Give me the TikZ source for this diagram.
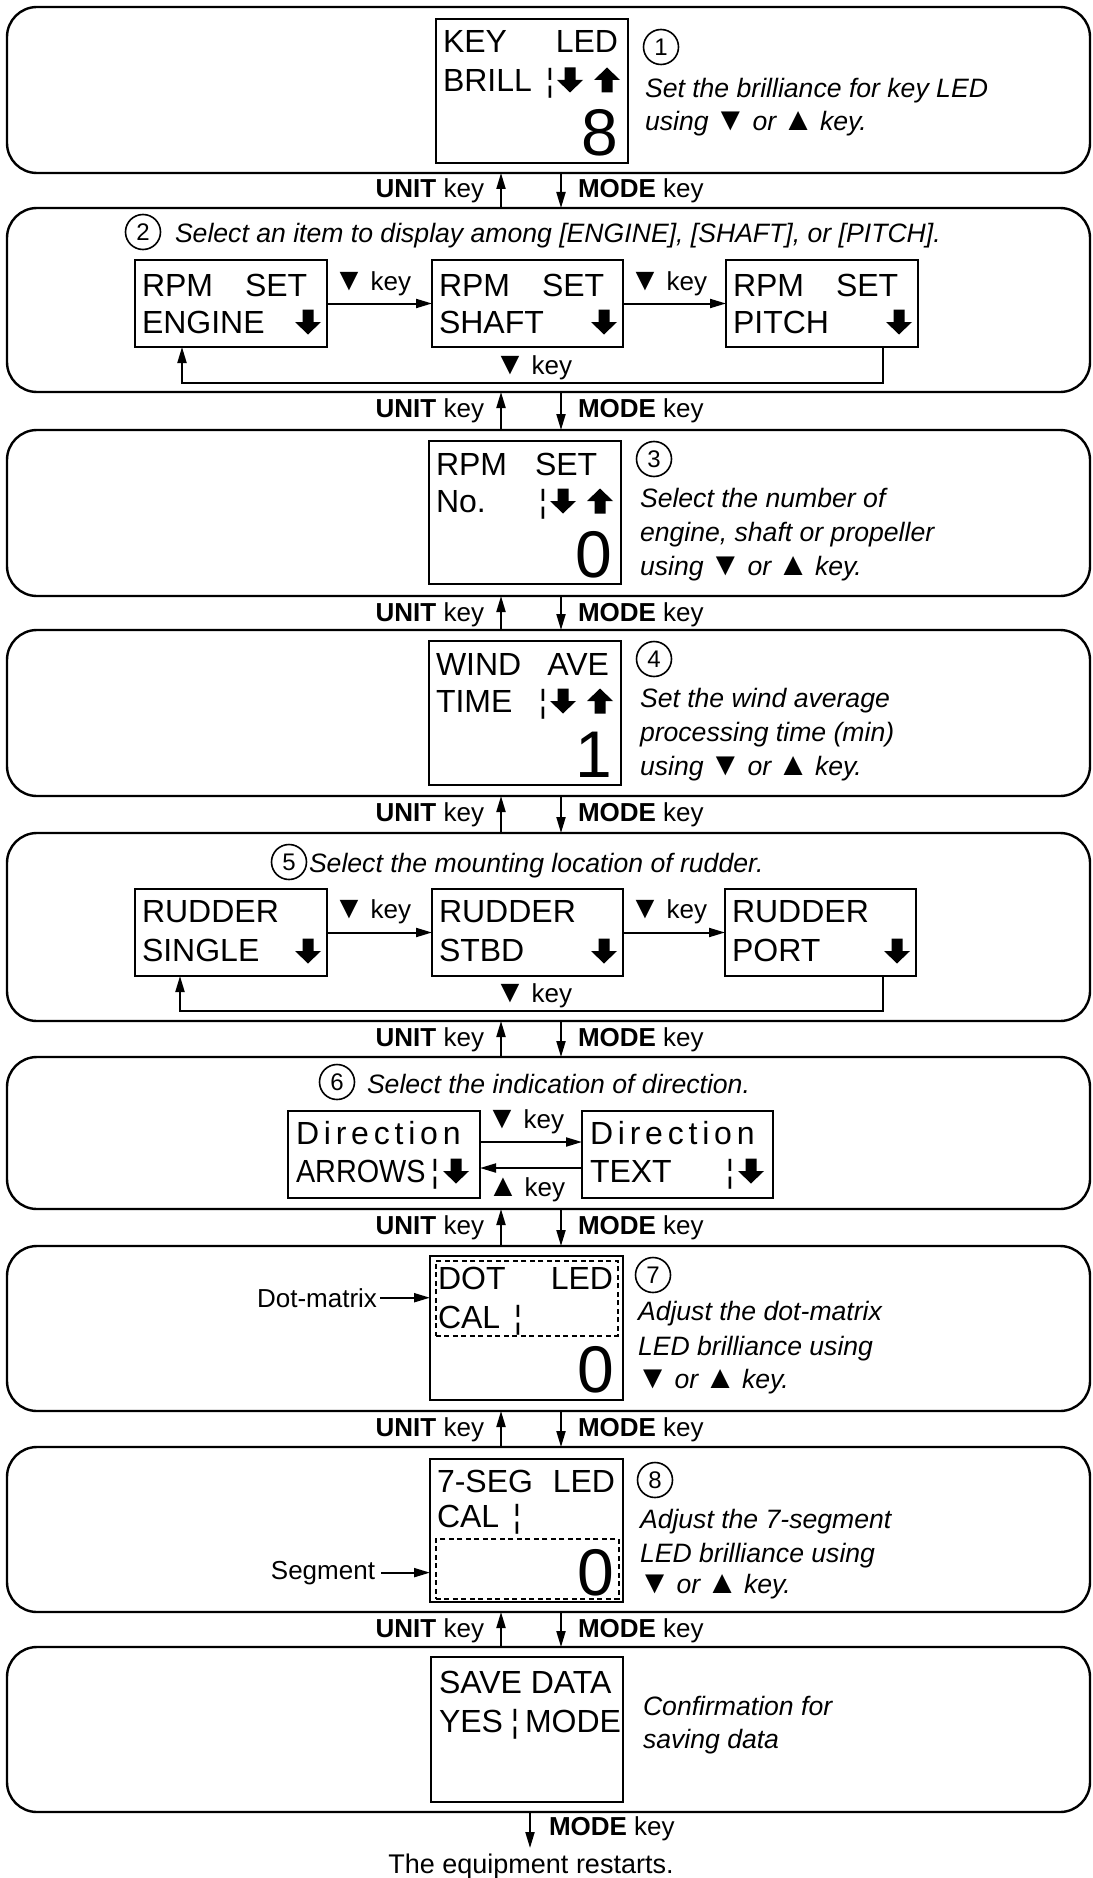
\documentclass[tikz,border=0pt]{standalone}
\usepackage{fontspec}
\setmainfont{Liberation Sans}
\newfontfamily\dirfont[LetterSpace=15]{Liberation Sans}
\usetikzlibrary{arrows.meta,calc}
\newcommand\fBox{\fontsize{32}{36}\selectfont}
\newcommand\fBig{\fontsize{66}{70}\selectfont}
\newcommand\fDesc{\fontsize{26.6}{30}\selectfont\itshape}
\newcommand\fKey{\fontsize{26}{30}\selectfont}
\newcommand\fNum{\fontsize{24}{28}\selectfont}
\newcommand\tdn{{\upshape\hspace{-1.5pt}\scalebox{1.22}{▼}\hspace{-1.5pt}}}
\newcommand\tup{{\upshape\hspace{-1.5pt}\scalebox{1.22}{▲}\hspace{-1.5pt}}}
\newcommand\pnl[3]{\node[panelbox, anchor=north west, minimum width=1083, minimum height={(#3)-(#2)}] (#1) at (7,#2) {};}
\newcommand\dbox[5]{\node[dispbox, anchor=north west, minimum width={(#4)-(#2)}, minimum height={(#5)-(#3)}] (#1) at (#2,#3) {};}
\begin{document}
\begin{tikzpicture}[x=1pt,y=-1pt,
  panelbox/.style={draw, line width=2.4pt, rounded corners=30pt, inner sep=0, outer sep=0},
  dispbox/.style={draw, line width=2.2pt, inner sep=0, outer sep=0},
  dotbox/.style={draw, line width=1.8pt, dash pattern=on 5pt off 3.5pt},
  boxtxt/.style={inner sep=0, outer sep=0, font=\fBox, anchor=base west},
  bigdig/.style={inner sep=0, outer sep=0, font=\fBig, anchor=base east},
  desctxt/.style={inner sep=0, outer sep=0, font=\fDesc, anchor=base west},
  keytxt/.style={inner sep=0, outer sep=0, font=\fKey, anchor=base west},
  circnum/.style={circle, draw, line width=1.6pt, minimum size=35pt, inner sep=0, font=\fNum},
  conarr/.style={line width=2pt, -{Triangle[length=16pt,width=9pt]}},
  pics/darr/.style={code={\fill (-5.5,-12.5) -- (5.5,-12.5) -- (5.5,0) -- (13,0) -- (0,12.5) -- (-13,0) -- (-5.5,0) -- cycle;}},
  pics/uarr/.style={code={\fill (-5.5,12.5) -- (5.5,12.5) -- (5.5,0) -- (13,0) -- (0,-12.5) -- (-13,0) -- (-5.5,0) -- cycle;}}
]
\fill[white] (0,0) rectangle (1092,1878);
\useasboundingbox (0,0) rectangle (1092,1878);
\coordinate (ux) at (501,0);
\coordinate (mx) at (561,0);
% panels
\pnl{p1}{7}{173}
\pnl{p2}{208}{392}
\pnl{p3}{430}{596}
\pnl{p4}{630}{796}
\pnl{p5}{833}{1021}
\pnl{p6}{1057}{1209}
\pnl{p7}{1246}{1411}
\pnl{p8}{1447}{1612}
\pnl{p9}{1647}{1812}
% strips between panels
\foreach \a/\b/\yb in {p1/p2/198, p2/p3/417, p3/p4/621, p4/p5/821, p5/p6/1046, p6/p7/1234, p7/p8/1436, p8/p9/1637} {
  \draw[conarr] (\b.north -| ux) -- (\a.south -| ux);
  \draw[conarr] (\a.south -| mx) -- (\b.north -| mx);
  \node[keytxt, anchor=base east] (u\a) at (484,\yb) {\textbf{UNIT} key};
  \node[keytxt] (m\a) at (578,\yb) {\textbf{MODE} key};
}
% ---------- panel 1
\dbox{b1}{436}{19}{628}{163}
\node[boxtxt] (b1k) at (443,53) {KEY};
\node[boxtxt, anchor=base east] (b1l) at (618,53) {LED};
\node[boxtxt] (b1b) at (443,92) {BRILL};
\node[boxtxt, anchor=base] (b1s) at (550,92) {¦};
\pic at (570,80) {darr};
\pic at (607,80) {uarr};
\node[bigdig] (b1n) at (618,156) {8};
\node[circnum] (c1) at (661,47) {1};
\node[desctxt] (d1a) at (645,98) {Set the brilliance for key LED};
\node[desctxt] (d1b) at (645,131) {using \tdn{} or \tup{} key.};
% ---------- panel 2
\node[circnum] (c2) at (143,232) {2};
\node[desctxt] (d2a) at (175,243) {Select an item to display among [ENGINE], [SHAFT], or [PITCH].};
\dbox{e1}{135}{260}{327}{347}
\dbox{e2}{432}{260}{623}{347}
\dbox{e3}{726}{260}{918}{347}
\node[boxtxt] (e1a) at (142,296) {RPM};
\node[boxtxt] (e1b) at (245,296) {SET};
\node[boxtxt] (e1c) at (142,333) {ENGINE};
\pic at (308,322) {darr};
\node[boxtxt] (e2a) at (439,296) {RPM};
\node[boxtxt] (e2b) at (542,296) {SET};
\node[boxtxt] (e2c) at (439,333) {SHAFT};
\pic at (604,322) {darr};
\node[boxtxt] (e3a) at (733,296) {RPM};
\node[boxtxt] (e3b) at (836,296) {SET};
\node[boxtxt] (e3c) at (733,333) {PITCH};
\pic at (899,322) {darr};
\draw[conarr] (e1.east) -- (e2.west);
\draw[conarr] (e2.east) -- (e3.west);
\node[keytxt, anchor=base] (k2a) at (373,290) {\tdn{} key};
\node[keytxt, anchor=base] (k2b) at (669,290) {\tdn{} key};
\coordinate (r2a) at (883,383);
\coordinate (r2b) at (182,383);
\draw[conarr] (e3.south -| r2a) -- (r2a) -- (r2b) -- (e1.south -| r2b);
\node[keytxt, anchor=base] (k2c) at (534,374) {\tdn{} key};
% ---------- panel 3
\dbox{b3}{429}{441}{621}{584}
\node[boxtxt] (b3a) at (436,475) {RPM};
\node[boxtxt] (b3b) at (535,475) {SET};
\node[boxtxt] (b3c) at (436,512) {No.};
\node[boxtxt, anchor=base] (b3s) at (543,512) {¦};
\pic at (563,501) {darr};
\pic at (600,501) {uarr};
\node[bigdig] (b3n) at (612,577) {0};
\node[circnum] (c3) at (654,459) {3};
\node[desctxt] (d3a) at (640,507) {Select the number of};
\node[desctxt] (d3b) at (640,541) {engine, shaft or propeller};
\node[desctxt] (d3c) at (640,575) {using \tdn{} or \tup{} key.};
% ---------- panel 4
\dbox{b4}{429}{641}{621}{785}
\node[boxtxt] (b4a) at (436,675) {WIND};
\node[boxtxt, anchor=base east] (b4b) at (609,675) {AVE};
\node[boxtxt] (b4c) at (436,712) {TIME};
\node[boxtxt, anchor=base] (b4s) at (543,712) {¦};
\pic at (563,701) {darr};
\pic at (600,701) {uarr};
\node[bigdig] (b4n) at (612,777) {1};
\node[circnum] (c4) at (654,659) {4};
\node[desctxt] (d4a) at (640,707) {Set the wind average};
\node[desctxt] (d4b) at (640,741) {processing time (min)};
\node[desctxt] (d4c) at (640,775) {using \tdn{} or \tup{} key.};
% ---------- panel 5
\node[circnum] (c5) at (289,862) {5};
\node[desctxt] (d5a) at (309,872) {Select the mounting location of rudder.};
\dbox{r1}{135}{889}{327}{976}
\dbox{r2}{432}{889}{623}{976}
\dbox{r3}{725}{889}{916}{976}
\node[boxtxt] (r1a) at (142,922) {RUDDER};
\node[boxtxt] (r1b) at (142,961) {SINGLE};
\pic at (308,951) {darr};
\node[boxtxt] (r2a) at (439,922) {RUDDER};
\node[boxtxt] (r2b) at (439,961) {STBD};
\pic at (604,951) {darr};
\node[boxtxt] (r3a) at (732,922) {RUDDER};
\node[boxtxt] (r3b) at (732,961) {PORT};
\pic at (897,951) {darr};
\draw[conarr] (r1.east) -- (r2.west);
\draw[conarr] (r2.east) -- (r3.west);
\node[keytxt, anchor=base] (k5a) at (373,918) {\tdn{} key};
\node[keytxt, anchor=base] (k5b) at (669,918) {\tdn{} key};
\coordinate (r5a) at (883,1011);
\coordinate (r5b) at (180,1011);
\draw[conarr] (r3.south -| r5a) -- (r5a) -- (r5b) -- (r1.south -| r5b);
\node[keytxt, anchor=base] (k5c) at (534,1002) {\tdn{} key};
% ---------- panel 6
\node[circnum] (c6) at (337,1082) {6};
\node[desctxt] (d6a) at (367,1093) {Select the indication of direction.};
\dbox{g1}{288}{1111}{480}{1198}
\dbox{g2}{582}{1111}{773}{1198}
\node[boxtxt, font=\fBox\dirfont] (g1a) at (296,1144) {Direction};
\node[boxtxt] (g1b) at (296,1182) {\scalebox{0.9}[1]{ARROWS}};
\node[boxtxt, anchor=base] (g1s) at (435,1182) {¦};
\pic at (456,1171) {darr};
\node[boxtxt, font=\fBox\dirfont] (g2a) at (590,1144) {Direction};
\node[boxtxt] (g2b) at (590,1182) {TEXT};
\node[boxtxt, anchor=base] (g2s) at (730,1182) {¦};
\pic at (751,1171) {darr};
\draw[conarr] ($(g1.east)+(0,-12.5)$) -- ($(g2.west)+(0,-12.5)$);
\draw[conarr] ($(g2.west)+(0,13.5)$) -- ($(g1.east)+(0,13.5)$);
\node[keytxt, anchor=base] (k6a) at (526,1128) {\tdn{} key};
\node[keytxt, anchor=base] (k6b) at (527,1196) {\tup{} key};
% ---------- panel 7
\dbox{b7}{430}{1256}{623}{1400}
\node[dotbox, anchor=north west, minimum width=182, minimum height=75, inner sep=0] (t7) at (435,1260) {};
\node[boxtxt] (b7a) at (438,1289) {DOT};
\node[boxtxt, anchor=base east] (b7b) at (613,1289) {LED};
\node[boxtxt] (b7c) at (438,1328) {CAL};
\node[boxtxt, anchor=base] (b7s) at (518,1328) {¦};
\node[bigdig] (b7n) at (614,1392) {0};
\node[keytxt, anchor=base east] (dm7) at (377,1307) {Dot-matrix};
\draw[conarr] ([xshift=3pt]dm7.east) -- (b7.west |- dm7.east);
\node[circnum] (c7) at (653,1275) {7};
\node[desctxt] (d7a) at (638,1320) {Adjust the dot-matrix};
\node[desctxt] (d7b) at (638,1355) {LED brilliance using};
\node[desctxt] (d7c) at (638,1388) {\tdn{} or \tup{} key.};
% ---------- panel 8
\dbox{b8}{430}{1459}{623}{1602}
\node[dotbox, anchor=north west, minimum width=183, minimum height=60, inner sep=0] (t8) at (435,1538) {};
\node[boxtxt] (b8a) at (437,1492) {7-SEG};
\node[boxtxt, anchor=base east] (b8b) at (615,1492) {LED};
\node[boxtxt] (b8c) at (437,1527) {CAL};
\node[boxtxt, anchor=base] (b8s) at (517,1527) {¦};
\node[bigdig] (b8n) at (614,1595) {0};
\node[keytxt, anchor=base east] (sg8) at (375,1579) {Segment};
\draw[conarr] ([xshift=6pt]sg8.east) -- (b8.west |- sg8.east);
\node[circnum] (c8) at (655,1480) {8};
\node[desctxt] (d8a) at (640,1528) {Adjust the 7-segment};
\node[desctxt] (d8b) at (640,1562) {LED brilliance using};
\node[desctxt] (d8c) at (640,1593) {\tdn{} or \tup{} key.};
% ---------- panel 9
\dbox{b9}{431}{1657}{623}{1802}
\node[boxtxt] (b9a) at (439,1693) {SAVE DATA};
\node[boxtxt] (b9b) at (439,1732) {YES};
\node[boxtxt, anchor=base] (b9s) at (515,1732) {¦};
\node[boxtxt] (b9c) at (525,1732) {MODE};
\node[desctxt] (d9a) at (643,1715) {Confirmation for};
\node[desctxt] (d9b) at (643,1748) {saving data};
\coordinate (endm) at (530,1848);
\draw[conarr] (p9.south -| endm) -- (endm);
\node[keytxt] (m9) at (549,1835) {\textbf{MODE} key};
\node[keytxt, anchor=base, font=\fontsize{27}{30}\selectfont] (fin) at (531,1873) {The equipment restarts.};
\end{tikzpicture}
\end{document}
